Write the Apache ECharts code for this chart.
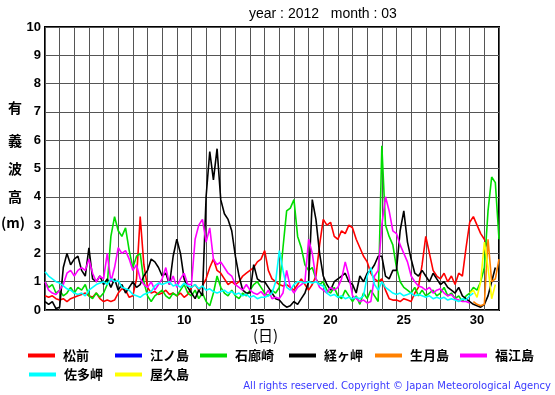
<!DOCTYPE html>
<html><head><meta charset="utf-8">
<script src="https://cdn.jsdelivr.net/npm/echarts@6/dist/echarts.min.js"></script>
<style>html,body{margin:0;padding:0;background:#fff}#c{width:555px;height:395px}</style>
</head><body><div id="c"></div>
<script>
// day categories (March 2012)
const days = ['1','2','3','4','5','6','7','8','9','10','11','12','13','14','15','16','17','18','19','20','21','22','23','24','25','26','27','28','29','30','31'];
const tickLabels = ['5','10','15','20','25','30'];
const yTicks = [0,1,2,3,4,5,6,7,8,9,10];
const seriesNames = ['松前','江ノ島','石廊崎','経ヶ岬','生月島','福江島','佐多岬','屋久島'];
const stepDays = 0.25; // values every 6 hours from 1st 00:00

// significant wave height (m), 6-hourly
const matsumae = [
0.5,0.45,0.5,0.4, 0.35,0.4,0.3,0.4, 0.45,0.5,0.55,0.6, 0.5,0.45,0.6,0.4, 0.3,0.35,0.3,0.35,
0.6,0.75,0.7,0.45, 0.5,1.1,3.3,1.6, 0.8,0.6,0.65,0.55, 0.6,0.7,0.55,0.6, 0.5,0.6,0.45,0.55,
0.8,0.9,0.7,0.85, 1.1,1.5,1.8,1.4, 1.3,1.1,0.9,1.0, 0.9,1.0,1.2,1.3, 1.4,1.5,1.7,1.8,
2.1,1.4,1.1,1.0, 0.9,0.85,0.9,0.8, 0.7,0.9,1.1,0.9, 0.7,0.9,1.2,2.3, 3.2,3.0,3.1,2.6,
2.5,2.8,2.7,3.0, 2.9,2.5,2.2,1.9, 1.7,1.3,1.1,1.0, 1.1,0.7,0.4,0.35, 0.35,0.3,0.4,0.35,
0.3,0.6,0.8,1.6, 2.6,2.0,1.4,1.2, 1.1,1.3,1.0,1.2, 0.9,1.3,1.2,2.2, 3.1,3.3,3.0,2.7,
2.5,2.2];
const enoshima = [];
const irozaki = [
1.0,0.8,0.9,0.6, 0.7,0.5,0.6,0.8, 0.6,0.8,0.7,0.9, 0.5,0.4,0.6,0.45, 0.6,0.9,2.6,3.3,
2.8,2.6,2.9,2.1, 1.5,1.9,2.0,1.0, 0.5,0.3,0.5,0.6, 0.7,0.5,0.4,0.6, 0.5,0.7,0.9,0.6,
0.5,0.7,0.4,0.6, 0.3,0.15,0.6,1.2, 0.8,0.6,0.5,0.7, 0.5,0.4,0.6,0.5, 0.7,0.9,1.0,0.8,
0.6,0.5,0.7,0.6, 0.8,2.2,3.5,3.6, 3.9,2.6,2.2,1.6, 1.4,1.5,1.1,0.9, 1.0,0.7,0.6,0.8,
0.5,0.4,0.7,0.5, 0.3,0.5,0.2,0.6, 0.4,0.7,0.5,0.3, 5.8,3.0,2.6,2.3, 1.5,1.0,0.8,0.7,
0.6,0.8,0.5,0.7, 0.5,0.6,0.7,0.5, 0.6,0.8,0.5,0.6, 0.4,0.5,0.3,0.5, 0.6,0.8,0.7,1.0,
1.5,3.5,4.7,4.5, 2.5];
const kyougamisaki = [
0.3,0.2,0.3,0.05, 0.1,1.5,2.0,1.6, 1.8,1.9,1.4,1.2, 2.2,1.1,1.0,1.2, 0.9,1.1,0.8,1.1,
0.7,0.9,0.6,0.8, 1.0,0.8,0.9,1.2, 1.4,1.8,1.7,1.5, 1.2,1.3,0.9,1.9, 2.5,2.0,1.1,0.8,
0.6,0.4,0.7,0.5, 4.0,5.6,4.6,5.7, 3.9,3.4,3.2,2.8, 1.9,1.2,0.7,0.6, 0.6,1.6,1.1,1.0,
1.0,0.8,0.6,0.4, 0.35,0.2,0.1,0.15, 0.3,0.2,0.4,0.6, 1.0,3.9,3.2,2.0, 1.2,0.9,0.7,1.0,
1.1,1.2,1.3,1.0, 0.9,0.6,1.2,1.0, 1.3,1.4,1.6,1.9, 1.9,1.2,1.1,1.4, 1.4,2.8,3.5,2.4,
1.8,1.3,1.2,1.4, 1.2,1.0,1.3,1.1, 0.9,1.0,0.8,0.7, 0.6,0.8,0.5,0.4, 0.3,0.2,0.15,0.1,
0.2,0.5,1.0,1.5];
const ikitsukishima = [0.3,0.2,0.15,0.2,2.5,1.0,1.1,1.8];
const ikitsukiStart = 117; // first 6-hour slot with data
const fukuejima = [
1.0,0.7,0.6,0.55, 0.7,0.9,1.3,1.4, 1.2,1.4,1.5,1.4, 1.8,1.3,1.0,1.2, 1.1,2.0,1.0,1.5,
2.2,2.0,2.1,1.8, 1.4,1.6,1.1,0.9, 0.8,1.0,0.7,0.9, 1.1,1.5,0.9,1.2, 0.8,1.1,1.3,0.9,
0.9,2.5,3.0,3.2, 2.4,2.9,1.8,1.6, 1.7,1.5,1.3,1.2, 0.9,0.8,0.7,0.9, 0.7,0.6,0.55,0.65,
0.5,0.7,0.4,0.45, 0.4,0.6,1.4,0.8, 0.6,0.8,0.9,1.0, 2.5,2.0,1.1,0.8, 0.7,0.6,0.8,0.7,
0.8,1.1,1.7,1.2, 0.5,0.4,0.3,0.35, 0.25,0.3,1.2,1.4, 3.0,4.0,3.5,2.8, 2.7,2.3,2.0,1.7,
1.2,1.0,0.85,0.8, 0.7,0.8,0.6,0.7, 0.75,0.6,0.5,0.55, 0.4,0.35,0.3,0.3, 0.25];
const satamisaki = [
1.35,1.2,1.1,1.0, 0.95,0.85,0.75,0.7, 0.6,0.55,0.6,0.5, 0.7,0.8,0.9,0.95, 1.0,0.9,1.1,1.0,
1.05,0.8,0.75,0.7, 0.55,0.5,0.45,0.55, 0.6,0.65,0.85,0.95, 0.9,0.95,1.0,0.85, 0.9,0.8,0.95,0.85,
0.8,0.9,0.75,0.85, 0.7,0.75,0.65,0.6, 0.65,0.7,0.6,0.65, 0.55,0.6,0.5,0.55, 0.45,0.5,0.4,0.45,
0.45,0.5,0.6,1.0, 2.1,1.4,0.8,0.7, 0.9,1.0,1.0,0.95, 1.0,0.95,1.0,0.9, 0.85,0.6,0.5,0.55,
0.45,0.5,0.4,0.45, 0.4,0.45,0.4,0.5, 1.2,1.5,0.9,0.7, 1.0,0.8,0.7,0.6, 0.55,0.6,0.5,0.55,
0.6,0.5,0.55,0.5, 0.45,0.5,0.4,0.45, 0.4,0.45,0.35,0.4, 0.35,0.3,0.4,0.35, 0.5,0.6];
const yakushima = [0.6,0.7,0.45,1.0,2.4,1.5,0.4,0.9];
const yakushimaStart = 116;

const colors = ['#ff0000','#0000ff','#00dd00','#000000','#ff8000','#ff00ff','#00ffff','#ffff00'];
const valueSets = [matsumae, enoshima, irozaki, kyougamisaki, ikitsukishima, fukuejima, satamisaki, yakushima];
const starts = [0,0,0,0,ikitsukiStart,0,0,yakushimaStart];

function pairs(vals, start){ return vals.map((v,i)=>[(start+i)*stepDays, v]); }

const chart = echarts.init(document.getElementById('c'), null, {renderer:'canvas'});
const legendLeft = [[28,0],[115,0],[200,0],[289,0],[375,0],[460,0],[29,1],[115,1]];
const legends = seriesNames.map((n,i)=>({
  data:[n], left: legendLeft[i][0], top: legendLeft[i][1] ? 368 : 349,
  icon:'rect', itemWidth:27, itemHeight:4, selectedMode:false, padding:0,
  textStyle:{fontSize:13, fontWeight:'bold', color:'#000', fontFamily:'Noto Sans CJK JP', padding:[0,0,0,3]}
}));
const series = seriesNames.map((n,i)=>({
  name:n, type:'line', xAxisIndex:1, yAxisIndex:0, showSymbol:false, symbol:'none',
  data: pairs(valueSets[i], starts[i]), color: colors[i],
  lineStyle:{width:1.6, color:colors[i]}, animation:false
}));
const yLabelChars = ['有','義','波','高','(m)'];
const yLabelY = [109,142,170,198,224];
const graphics = yLabelChars.map((c,i)=>({
  type:'text', left: i<4 ? 8 : 1, top: yLabelY[i]-8,
  style:{text:c, fontSize:14, fontWeight:'bold', fill:'#000', fontFamily:'Noto Sans CJK JP'}
}));
graphics.push({type:'text', left:249, top:7, style:{text:'year : 2012   month : 03', fontSize:14, fill:'#000', fontFamily:'Liberation Sans'}});
graphics.push({type:'text', left:253, top:328, style:{text:'(日)', fontSize:15, fill:'#000', fontFamily:'Noto Sans CJK JP'}});
graphics.push({type:'text', right:4, top:381, style:{text:'All rights reserved. Copyright © Japan Meteorological Agency', fontSize:10, fill:'#3a3aff', fontFamily:'DejaVu Sans'}});

chart.setOption({
  animation:false,
  backgroundColor:'#fff',
  grid:{left:45, top:27, width:454, height:283, show:true, borderColor:'#000', borderWidth:2, backgroundColor:'transparent'},
  xAxis:[{
    type:'category', data:days, boundaryGap:true,
    axisLine:{show:false}, axisTick:{show:false},
    splitLine:{show:true, interval:0, lineStyle:{color:'#555', width:1}},
    axisLabel:{interval:0, margin:4, fontSize:13, fontWeight:'bold', color:'#000', fontFamily:'Liberation Sans',
      formatter:(v)=> tickLabels.includes(v) ? v : ''}
  },{
    type:'value', min:0, max:31, show:false
  }],
  yAxis:[{
    type:'value', min:0, max:10, interval:1,
    axisLine:{show:false}, axisTick:{show:false},
    splitLine:{show:true, lineStyle:{color:'#555', width:1}},
    axisLabel:{margin:4, fontSize:13, fontWeight:'bold', color:'#000', fontFamily:'Liberation Sans',
      formatter:(v)=> yTicks.includes(v) ? String(v) : ''}
  }],
  legend:legends,
  graphic:graphics,
  series:series
});
</script></body></html>
